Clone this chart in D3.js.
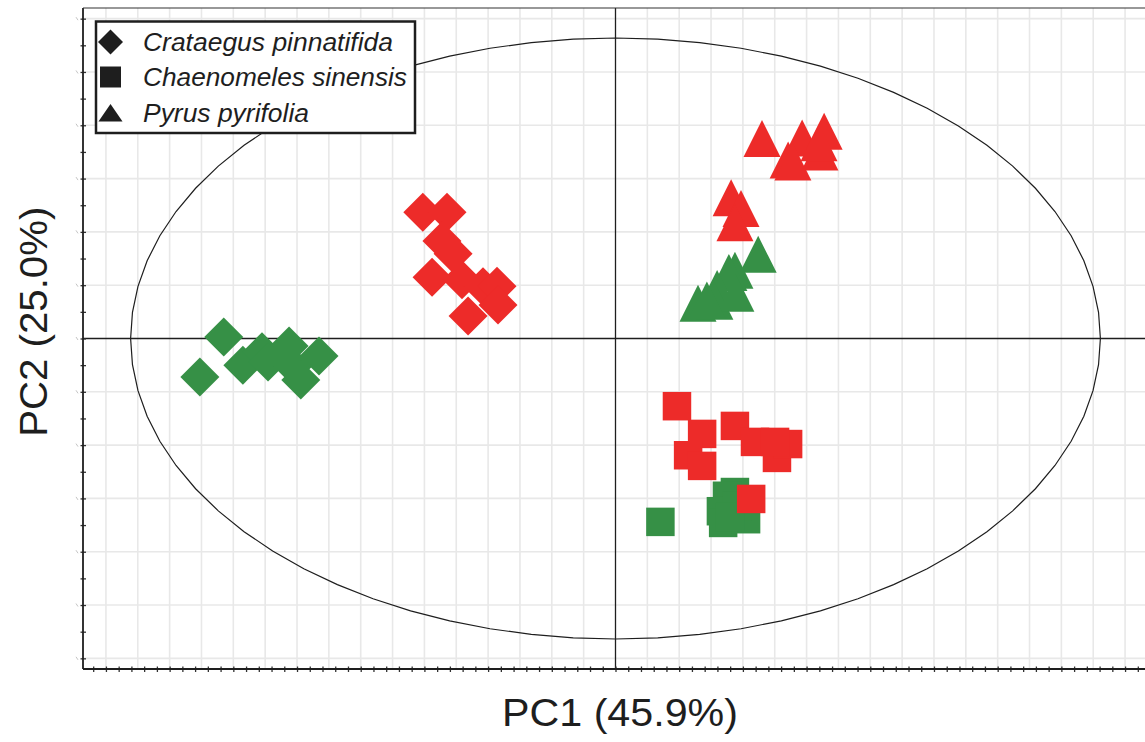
<!DOCTYPE html>
<html>
<head>
<meta charset="utf-8">
<script src="https://cdn.jsdelivr.net/npm/d3@7/dist/d3.min.js"></script>
<style>
  html, body { margin: 0; padding: 0; background: #fff; }
  svg { display: block; font-family: "Liberation Sans", Arial, sans-serif; }
</style>
</head>
<body>
<svg id="chart" width="1145" height="742"></svg>
<script>
// PCA score plot: PC1 vs PC2, three species in two sample groups
const species = ["Crataegus pinnatifida", "Chaenomeles sinensis", "Pyrus pyrifolia"];
const axisTitleX = "PC1 (45.9%)";
const axisTitleY = "PC2 (25.0%)";

// Crataegus pinnatifida (diamonds)
const crataegusGreenPC1 = [-12.30, -13.05, -11.70, -11.10, -10.91, -10.25, -10.13, -9.88, -9.31];
const crataegusGreenPC2 = [0.03, -0.72, -0.50, -0.25, -0.44, -0.14, -0.52, -0.78, -0.33];
const crataegusRedPC1 = [-6.05, -5.29, -5.45, -5.10, -5.76, -4.82, -4.16, -3.72, -3.69, -4.63];
const crataegusRedPC2 = [2.37, 2.37, 1.83, 1.59, 1.15, 1.10, 0.97, 0.98, 0.63, 0.42];

// Chaenomeles sinensis (squares)
const chaenomelesGreenPC1 = [1.41, 3.75, 3.50, 3.31, 3.38, 4.10, 3.82, 3.60];
const chaenomelesGreenPC2 = [-3.44, -2.88, -2.95, -3.24, -3.46, -3.39, -3.14, -3.35];
const chaenomelesRedPC1 = [1.93, 2.72, 2.28, 2.72, 3.75, 4.38, 5.07, 5.42, 5.01, 4.26];
const chaenomelesRedPC2 = [-1.27, -1.79, -2.19, -2.39, -1.64, -1.94, -2.24, -1.98, -1.94, -3.01];

// Pyrus pyrifolia (triangles)
const pyrusGreenPC1 = [4.48, 3.75, 3.56, 3.19, 2.59, 3.12, 3.78, 2.87];
const pyrusGreenPC2 = [1.58, 1.28, 1.24, 0.94, 0.66, 0.70, 0.85, 0.72];
const pyrusRedPC1 = [4.60, 5.86, 6.55, 5.42, 5.57, 6.42, 6.39, 3.63, 3.94, 3.75];
const pyrusRedPC2 = [3.75, 3.76, 3.89, 3.35, 3.31, 3.50, 3.67, 2.64, 2.44, 2.17];

// Hotelling T2 ellipse semi-axes (score units)
const ellipseRadiusPC1 = 15.225;
const ellipseRadiusPC2 = 5.637;

const GREEN = "#369046";
const RED = "#ed2b29";
const INK = "#1e1e1e";

const svg = d3.select("#chart");
const plot = { left: 83, right: 1148, top: 8, bottom: 669 };

const x = d3.scaleLinear().domain([-16.72, 16.72]).range([plot.left, plot.right]);
const y = d3.scaleLinear().domain([-6.2, 6.2]).range([plot.bottom, plot.top]);

// grid
const grid = svg.append("g").attr("stroke", "#e8e8e8").attr("stroke-width", 1.6);
grid.selectAll("line.vx").data(d3.range(-16, 17).filter(v => v !== 0)).join("line")
  .attr("x1", d => x(d)).attr("x2", d => x(d))
  .attr("y1", plot.top).attr("y2", plot.bottom);
grid.selectAll("line.hy").data(d3.range(-6, 7).filter(v => v !== 0)).join("line")
  .attr("x1", plot.left).attr("x2", plot.right)
  .attr("y1", d => y(d)).attr("y2", d => y(d));

// faint marks left of the vertical axis at the grid rows
svg.append("g").attr("stroke", "#c4c4c4").attr("stroke-width", 1)
  .selectAll("line").data(d3.range(-6, 7)).join("line")
  .attr("x1", 76).attr("x2", 78)
  .attr("y1", d => y(d) - 1.5).attr("y2", d => y(d) + 1.5);

// zero lines
svg.append("line").attr("x1", plot.left).attr("x2", plot.right)
  .attr("y1", y(0)).attr("y2", y(0)).attr("stroke", INK).attr("stroke-width", 1.3);
svg.append("line").attr("x1", x(0)).attr("x2", x(0))
  .attr("y1", plot.top).attr("y2", plot.bottom).attr("stroke", INK).attr("stroke-width", 1.3);

// confidence ellipse
const theta = d3.range(0, 2 * Math.PI + 1e-9, Math.PI / 36);
svg.append("path")
  .datum(theta)
  .attr("fill", "none").attr("stroke", INK).attr("stroke-width", 1.2)
  .attr("d", d3.line()
    .x(t => x(ellipseRadiusPC1 * Math.cos(t)))
    .y(t => y(ellipseRadiusPC2 * Math.sin(t))));

// axes with tick marks only
const xAxis = svg.append("g").attr("transform", `translate(0,${plot.bottom})`)
  .call(d3.axisBottom(x).tickValues(d3.range(-41, 42).map(i => i * 0.4)).tickSize(5.5).tickFormat("").tickSizeOuter(0));
xAxis.selectAll(".tick line").attr("y1", -2.5).attr("y2", 3).attr("stroke", "#333").attr("stroke-width", 1.3);
xAxis.select(".domain").remove();

const yAxis = svg.append("g").attr("transform", `translate(${plot.left},0)`)
  .call(d3.axisLeft(y).tickValues(d3.range(-12, 13).map(i => i * 0.5)).tickSize(3).tickFormat("").tickSizeOuter(0));
yAxis.selectAll(".tick line").attr("x1", -2.5).attr("x2", 3).attr("stroke", "#333").attr("stroke-width", 1.3);
yAxis.select(".domain").remove();

// frame lines
svg.append("line").attr("x1", plot.left).attr("x2", plot.right)
  .attr("y1", plot.bottom).attr("y2", plot.bottom).attr("stroke", INK).attr("stroke-width", 1.8);
svg.append("line").attr("x1", plot.left).attr("x2", plot.left)
  .attr("y1", plot.top).attr("y2", plot.bottom).attr("stroke", INK).attr("stroke-width", 1.8);
svg.append("line").attr("x1", plot.left).attr("x2", plot.right)
  .attr("y1", plot.top).attr("y2", plot.top).attr("stroke", "#333").attr("stroke-width", 1.2);

// marker shapes centred on the origin
const shapes = {
  diamond: r => `M0,${-r}L${r},0L0,${r}L${-r},0Z`,
  square: s => `M${-s / 2},${-s / 2}h${s}v${s}h${-s}Z`,
  triangle: s => `M0,${-s / 2}L${s / 2},${s / 2}L${-s / 2},${s / 2}Z`
};

function toPoints(pc1, pc2) { return pc1.map((v, i) => ({ pc1: v, pc2: pc2[i] })); }

const layers = [
  { pts: toPoints(crataegusGreenPC1, crataegusGreenPC2), color: GREEN, d: shapes.diamond(19.5) },
  { pts: toPoints(crataegusRedPC1, crataegusRedPC2), color: RED, d: shapes.diamond(19.5) },
  { pts: toPoints(chaenomelesGreenPC1, chaenomelesGreenPC2), color: GREEN, d: shapes.square(28.5) },
  { pts: toPoints(chaenomelesRedPC1, chaenomelesRedPC2), color: RED, d: shapes.square(28.5) },
  { pts: toPoints(pyrusGreenPC1, pyrusGreenPC2), color: GREEN, d: shapes.triangle(37) },
  { pts: toPoints(pyrusRedPC1, pyrusRedPC2), color: RED, d: shapes.triangle(37) }
];

layers.forEach(layer => {
  svg.append("g").selectAll("path").data(layer.pts).join("path")
    .attr("transform", p => `translate(${x(p.pc1)},${y(p.pc2)})`)
    .attr("d", layer.d)
    .attr("fill", layer.color);
});

// legend
const legend = svg.append("g");
legend.append("rect").attr("x", 96).attr("y", 21.5).attr("width", 319).attr("height", 111.5)
  .attr("fill", "#fff").attr("stroke", INK).attr("stroke-width", 2.5);
const legendShapes = [shapes.diamond(12.5), shapes.square(21), "M0,-9L12,8.5L-12,8.5Z"];
const legendWidths = [250, 264, 166];
const legendRows = [42, 77, 113];
species.forEach((name, i) => {
  legend.append("path").attr("transform", `translate(110.5,${legendRows[i]})`)
    .attr("d", legendShapes[i]).attr("fill", INK);
  legend.append("text").attr("x", 143).attr("y", legendRows[i] + 9)
    .attr("font-size", 25.5).attr("font-style", "italic").attr("fill", INK)
    .attr("textLength", legendWidths[i]).attr("lengthAdjust", "spacingAndGlyphs")
    .text(name);
});

// axis titles
svg.append("text").attr("x", 620).attr("y", 726).attr("text-anchor", "middle")
  .attr("font-size", 38.5).attr("fill", INK)
  .attr("textLength", 236).attr("lengthAdjust", "spacingAndGlyphs")
  .text(axisTitleX);
svg.append("text").attr("transform", "translate(46.5,321.7) rotate(-90)")
  .attr("text-anchor", "middle").attr("font-size", 38.5).attr("fill", INK)
  .attr("textLength", 230).attr("lengthAdjust", "spacingAndGlyphs")
  .text(axisTitleY);
</script>
</body>
</html>
